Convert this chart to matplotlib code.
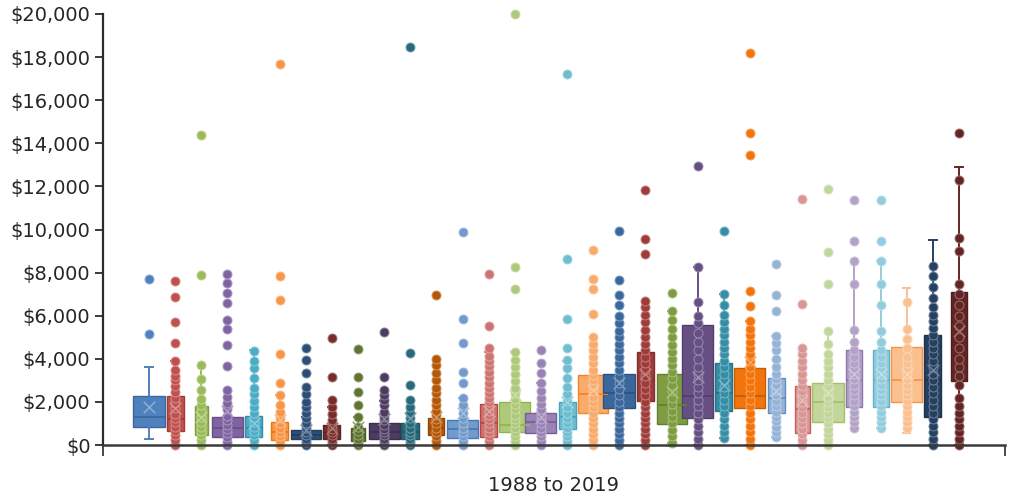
import colorsys
import numpy as np
import matplotlib
matplotlib.use("Agg")
import matplotlib.pyplot as plt
from matplotlib.colors import to_rgb
from matplotlib.ticker import FuncFormatter, MultipleLocator

# ---------------- data ----------------
years = list(range(1988, 2020))
category = "1988 to 2019"

q1 = [830, 650, 460, 370, 370, 230, 280, 280, 190, 300, 300, 460, 330, 370, 600, 550,
      750, 1500, 1700, 2050, 970, 1250, 1600, 1700, 1500, 560, 1070, 1760, 1760, 1980, 1300, 2980]
median = [1300, 1200, 1000, 800, 800, 600, 450, 550, 450, 600, 600, 800, 750, 1000, 950, 1050,
          1300, 2350, 2400, 3000, 1850, 2270, 2400, 2280, 2200, 1660, 2000, 3000, 3000, 3000, 3000, 5000]
q3 = [2270, 2270, 1800, 1300, 1350, 1070, 700, 930, 800, 1000, 1000, 1250, 1160, 1900, 2000, 1500,
      2000, 3270, 3300, 4300, 3300, 5550, 3820, 3580, 3100, 2730, 2900, 4400, 4400, 4550, 5100, 7100]
whisker_low = [280, 0, 0, 0, 0, 0, 0, 0, 0, 0, 0, 0, 0, 0, 0, 0,
               0, 0, 0, 0, 100, 0, 330, 0, 350, 0, 0, 800, 800, 560, 0, 0]
whisker_high = [3600, 3900, 3700, 2550, 4400, 2300, 1300, 1750, 1300, 2050, 2100, 2400, 2200, 4300, 4300, 2900,
                3900, 5000, 5700, 6700, 6200, 8250, 7000, 5750, 5050, 4500, 5300, 8550, 8550, 7300, 9500, 12900]
mean = [1750, 1700, 1300, 1600, 1000, 1150, 700, 800, 850, 1200, 1250, 1300, 1500, 1600, 2300, 1300,
        2000, 2550, 2900, 3300, 2450, 3150, 2800, 3850, 2500, 2100, 2400, 3300, 3300, 3300, 3500, 5300]

points = [
    [5150, 7700],
    [0, 250, 450, 650, 850, 1050, 1250, 1450, 1700, 1950, 2200, 2450, 2750, 3000, 3200, 3500, 3900, 4750, 5700, 6850, 7600],
    [0, 250, 450, 650, 850, 1050, 1300, 1550, 1850, 2150, 2550, 3050, 3700, 7900, 14400],
    [0, 150, 350, 550, 750, 950, 1150, 1350, 1650, 1950, 2250, 2550, 3650, 4650, 5400, 5800, 6600, 7050, 7500, 7950],
    [0, 250, 450, 650, 850, 1050, 1250, 1500, 1750, 2050, 2350, 2650, 3100, 3550, 3900, 4350],
    [0, 200, 400, 600, 800, 1000, 1250, 1550, 1850, 2300, 2900, 4200, 6750, 7850, 17700],
    [0, 150, 300, 450, 600, 800, 1000, 1250, 1500, 1750, 2000, 2350, 2700, 3350, 3950, 4500],
    [0, 150, 300, 450, 600, 750, 950, 1150, 1450, 1750, 2100, 3150, 4950],
    [0, 150, 300, 450, 650, 850, 1300, 1850, 2450, 3150, 4450],
    [0, 150, 300, 450, 600, 750, 950, 1150, 1300, 1550, 1850, 2100, 2300, 2550, 3150, 5250],
    [0, 150, 300, 450, 600, 800, 1000, 1250, 1500, 1750, 2100, 2800, 4250, 18450],
    [0, 200, 400, 600, 800, 1000, 1200, 1400, 1600, 1850, 2100, 2400, 2650, 3000, 3350, 3700, 4000, 6950],
    [0, 200, 400, 600, 800, 1000, 1250, 1500, 1850, 2200, 2900, 3400, 4750, 5850, 9900],
    [0, 200, 400, 600, 800, 1000, 1200, 1400, 1600, 1800, 2000, 2200, 2400, 2650, 2900, 3150, 3400, 3650, 3900, 4150, 4500, 5500, 7950],
    [0, 200, 400, 600, 800, 1000, 1200, 1400, 1650, 1900, 2150, 2400, 2650, 2950, 3300, 3600, 3950, 4300, 7250, 8250, 20000],
    [0, 200, 400, 600, 800, 1000, 1200, 1400, 1650, 1900, 2200, 2500, 2900, 3350, 3800, 4400],
    [0, 200, 400, 600, 800, 1000, 1250, 1500, 1750, 2050, 2350, 2700, 3100, 3550, 3950, 4500, 5850, 8650, 17200],
    [0, 250, 500, 750, 1000, 1250, 1500, 1750, 2000, 2250, 2500, 2750, 3000, 3250, 3500, 3800, 4100, 4400, 4700, 5000, 6100, 7250, 7700, 9050],
    [0, 250, 500, 750, 1000, 1250, 1500, 1750, 2000, 2300, 2600, 2900, 3200, 3500, 3800, 4100, 4400, 4700, 5000, 5300, 5650, 6000, 6500, 6950, 7650, 9950],
    [0, 250, 500, 750, 1000, 1250, 1500, 1750, 2000, 2300, 2600, 2900, 3200, 3500, 3800, 4100, 4400, 4700, 5000, 5350, 5700, 6050, 6400, 6700, 8850, 9550, 11850],
    [100, 400, 700, 1000, 1300, 1600, 1900, 2200, 2500, 2800, 3100, 3400, 3700, 4000, 4300, 4650, 5000, 5400, 5800, 6200, 7050],
    [0, 300, 600, 900, 1200, 1500, 1800, 2100, 2400, 2700, 3000, 3300, 3600, 4000, 4400, 4800, 5200, 5650, 6000, 6650, 8250, 12950],
    [330, 600, 900, 1200, 1500, 1800, 2100, 2400, 2700, 3000, 3300, 3600, 3900, 4200, 4500, 4800, 5100, 5400, 5700, 6050, 6500, 7000, 9950],
    [0, 300, 600, 900, 1200, 1500, 1800, 2100, 2400, 2700, 3000, 3300, 3600, 3900, 4200, 4500, 4800, 5100, 5400, 5750, 6450, 7150, 13450, 14500, 18200],
    [350, 600, 850, 1100, 1300, 1550, 1800, 2050, 2300, 2550, 2800, 3050, 3300, 3600, 4000, 4400, 4750, 5050, 6200, 6950, 8400],
    [0, 250, 500, 750, 1000, 1250, 1500, 1750, 2000, 2250, 2500, 2750, 3000, 3300, 3600, 3900, 4200, 4500, 6550, 11400],
    [0, 250, 500, 750, 1000, 1250, 1500, 1750, 2000, 2250, 2500, 2750, 3000, 3300, 3600, 3900, 4200, 4700, 5300, 7450, 8950, 11900],
    [800, 1050, 1300, 1550, 1800, 2050, 2300, 2550, 2800, 3050, 3300, 3550, 3800, 4100, 4400, 4800, 5350, 7450, 8550, 9450, 11350],
    [800, 1050, 1300, 1550, 1800, 2050, 2300, 2550, 2800, 3050, 3300, 3550, 3800, 4100, 4400, 4800, 5300, 6500, 7450, 8550, 9450, 11350],
    [800, 1050, 1300, 1550, 1800, 2050, 2300, 2550, 2800, 3050, 3300, 3550, 3800, 4100, 4500, 4900, 5400, 6650],
    [0, 300, 600, 900, 1200, 1500, 1800, 2100, 2400, 2700, 3000, 3300, 3600, 3900, 4200, 4500, 4800, 5100, 5450, 5750, 6050, 6400, 6800, 7350, 7850, 8300],
    [0, 300, 600, 900, 1200, 1500, 1800, 2200, 2800, 3200, 3600, 4000, 4500, 5000, 5500, 6000, 6500, 7000, 7450, 9000, 9600, 12300, 14500],
]

# ---------------- style ----------------
accents = ['#4F81BD', '#C0504D', '#9BBB59', '#8064A2', '#4BACC6', '#F79646']
shades = [(1.0, 0.0), (0.6, 0.0), (0.8, 0.2), (0.8, 0.0), (0.6, 0.4), (0.5, 0.0)]
box_width_px = [32, 17, 13, 31, 17, 17, 30, 17, 14, 31, 18, 16, 31, 17, 31, 31,
                17, 30, 32, 17, 30, 31, 17, 31, 17, 15, 32, 16, 16, 31, 17, 16]


def series_color(i):
    r, g, b = to_rgb(accents[i % 6])
    mod, off = shades[(i // 6) % len(shades)]
    h, l, s = colorsys.rgb_to_hls(r, g, b)
    return colorsys.hls_to_rgb(h, min(1.0, l * mod + off), s)


def adjust(c, f):
    h, l, s = colorsys.rgb_to_hls(*c)
    return colorsys.hls_to_rgb(h, min(1.0, l * f), s)


def lighten(c, a):
    return tuple(x + (1 - x) * a for x in c)


fig = plt.figure(figsize=(10.19, 5.0), dpi=100)
ax = fig.add_axes([103 / 1019, 55 / 500, 902 / 1019, 431 / 500])

n = len(years)
pos = np.arange(n)
margin = 1.76
ax.set_xlim(-margin, n - 1 + margin)
ax.set_ylim(0, 20000)
unit_px = 902 / (n - 1 + 2 * margin)

for i in range(n):
    col = series_color(i)
    dark = adjust(col, 0.8)
    light = lighten(col, 0.35)
    stats = [dict(med=median[i], q1=q1[i], q3=q3[i], whislo=whisker_low[i],
                  whishi=whisker_high[i], mean=mean[i], fliers=[])]
    ax.bxp(stats, positions=[pos[i]], widths=[box_width_px[i] / unit_px],
           patch_artist=True, showmeans=False, showfliers=False,
           capwidths=[0.28], manage_ticks=False, zorder=3,
           boxprops=dict(facecolor=col, edgecolor=dark, linewidth=1.0),
           medianprops=dict(color=dark, linewidth=1.3),
           whiskerprops=dict(color=col, linewidth=1.4),
           capprops=dict(color=col, linewidth=1.4))
    p = points[i]
    ax.scatter(np.full(len(p), pos[i]), p, s=42, color=col, edgecolors=[light],
               linewidths=0.7, zorder=4, clip_on=False)
    ax.scatter([pos[i]], [mean[i]], marker='x', s=70, color=light,
               linewidths=1.1, zorder=5)

# axes styling
for side in ('top', 'right'):
    ax.spines[side].set_visible(False)
ax.spines['left'].set_color('#2b2b2b')
ax.spines['left'].set_linewidth(1.6)
ax.spines['bottom'].set_color('#3a3a3a')
ax.spines['bottom'].set_linewidth(1.8)
ax.spines['bottom'].set_zorder(6)
ax.spines['left'].set_zorder(6)

ax.yaxis.set_major_locator(MultipleLocator(2000))
ax.yaxis.set_major_formatter(FuncFormatter(lambda v, _: f"${v:,.0f}"))
ax.tick_params(axis='y', direction='out', length=6, width=1.3, color='#2b2b2b',
               labelsize=14, labelcolor='#262626', pad=3)

ax.set_xticks([(n - 1) / 2])
ax.set_xticklabels([category])
ax.set_xticks([-margin, n - 1 + margin], minor=True)
ax.tick_params(axis='x', which='major', length=0, pad=22, labelsize=14, labelcolor='#262626')
ax.tick_params(axis='x', which='minor', direction='out', length=8, width=1.3, color='#3a3a3a')

fig.savefig("out.png", dpi=100, facecolor='white')
